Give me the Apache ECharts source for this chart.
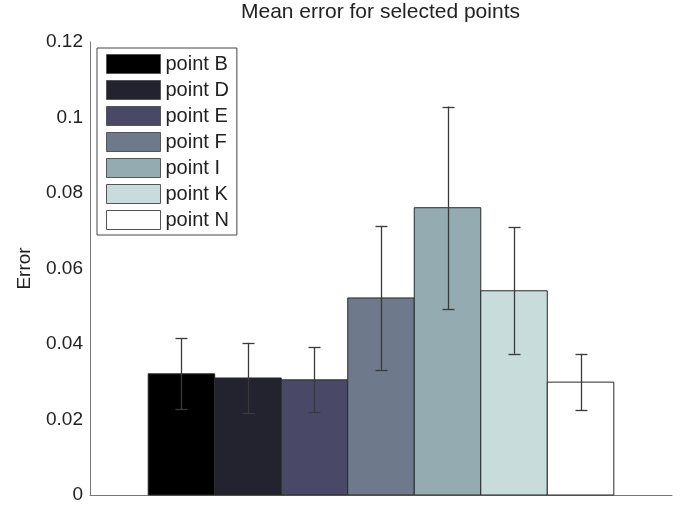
<!DOCTYPE html>
<html>
<head>
<meta charset="utf-8">
<script src="https://cdn.jsdelivr.net/npm/echarts@6/dist/echarts.min.js"></script>
<style>html,body{margin:0;padding:0;background:#fff}#c{width:686px;height:505px}</style>
</head>
<body>
<div id="c"></div>
<script>
const names = ['point B', 'point D', 'point E', 'point F', 'point I', 'point K', 'point N'];
const means = [0.0321, 0.0310, 0.0305, 0.0522, 0.0761, 0.0541, 0.0299];
const errTop = [0.0415, 0.0403, 0.0391, 0.0713, 0.1029, 0.0709, 0.0374];
const errBottom = [0.0227, 0.0218, 0.0220, 0.0332, 0.0493, 0.0374, 0.0224];
const colors = ['#000000', '#22232e', '#4a4867', '#6e7a8b', '#94acb1', '#c7dcdb', '#ffffff'];
const yTicks = ['0', '0.02', '0.04', '0.06', '0.08', '0.1', '0.12'];

const FONT = 'Liberation Sans';
const chart = echarts.init(document.getElementById('c'));

function renderBar(params, api) {
  const i = api.value(0);
  const v = api.value(1);
  const lo = api.value(2);
  const hi = api.value(3);
  const p0 = api.coord([i - 0.5, v]);
  const p1 = api.coord([i + 0.5, 0]);
  const e0 = api.coord([i, hi]);
  const e1 = api.coord([i, lo]);
  const cap = 6;
  const x = Math.round(e0[0]) + 0.5;
  return {
    type: 'group',
    children: [
      {
        type: 'rect',
        shape: { x: p0[0], y: p0[1], width: p1[0] - p0[0], height: p1[1] - p0[1] },
        style: { fill: api.visual('color'), stroke: '#2a2a2a', lineWidth: 1 }
      },
      {
        type: 'line',
        shape: { x1: x, y1: e0[1], x2: x, y2: e1[1] },
        style: { stroke: '#3a3a3a', lineWidth: 1.3 }
      },
      {
        type: 'line',
        shape: { x1: x - cap, y1: Math.round(e0[1]) + 0.5, x2: x + cap, y2: Math.round(e0[1]) + 0.5 },
        style: { stroke: '#3a3a3a', lineWidth: 1.3 }
      },
      {
        type: 'line',
        shape: { x1: x - cap, y1: Math.round(e1[1]) + 0.5, x2: x + cap, y2: Math.round(e1[1]) + 0.5 },
        style: { stroke: '#3a3a3a', lineWidth: 1.3 }
      }
    ]
  };
}

const series = names.map((n, i) => ({
  name: n,
  type: 'custom',
  renderItem: renderBar,
  itemStyle: { color: colors[i] },
  encode: { x: 0, y: 1 },
  data: [[i, means[i], errBottom[i], errTop[i]]],
  z: 2
}));

chart.setOption({
  animation: false,
  backgroundColor: '#ffffff',
  textStyle: { fontFamily: FONT },
  title: {
    text: 'Mean error for selected points',
    left: 241,
    top: 2,
    padding: 0,
    textStyle: { fontFamily: FONT, fontSize: 21, fontWeight: 'normal', color: '#222' }
  },
  legend: {
    orient: 'vertical',
    left: 97,
    top: 48,
    padding: [6, 8, 5, 9],
    itemWidth: 54,
    itemHeight: 19,
    itemGap: 6,
    icon: 'rect',
    backgroundColor: '#fff',
    borderColor: '#444',
    borderWidth: 1,
    borderRadius: 0,
    selectedMode: false,
    itemStyle: { borderColor: '#555', borderWidth: 1 },
    textStyle: { fontFamily: FONT, fontSize: 20, color: '#222' },
    data: names
  },
  grid: { left: 90, right: 14, top: 42, bottom: 10, containLabel: false },
  xAxis: {
    type: 'value',
    min: -1.375,
    max: 7.375,
    axisLine: { show: true, onZero: false, lineStyle: { color: '#777', width: 1 } },
    axisTick: { show: false },
    axisLabel: { show: false },
    splitLine: { show: false }
  },
  yAxis: {
    type: 'value',
    min: 0,
    max: 0.12,
    interval: 0.02,
    name: 'Error',
    nameLocation: 'middle',
    nameGap: 56,
    nameRotate: 90,
    nameTextStyle: { fontFamily: FONT, fontSize: 19, color: '#222' },
    axisLine: { show: true, onZero: false, lineStyle: { color: '#777', width: 1 } },
    axisTick: { show: false },
    splitLine: { show: false },
    axisLabel: {
      margin: 7,
      fontFamily: FONT,
      fontSize: 19,
      color: '#222',
      formatter: function (v) { return yTicks[Math.round(v / 0.02)]; }
    }
  },
  series: series
});
</script>
</body>
</html>
